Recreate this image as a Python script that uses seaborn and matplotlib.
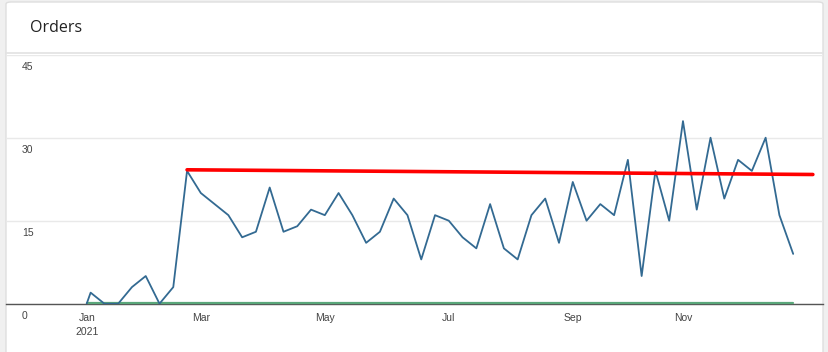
import numpy as np
import pandas as pd
import matplotlib
matplotlib.use("Agg")
import matplotlib.pyplot as plt
import matplotlib.dates as mdates
from matplotlib.patches import FancyBboxPatch
from matplotlib.lines import Line2D
import seaborn as sns

# ---------------------------
# Data
# ---------------------------
first_day = ["2021-01-01"]
weekly_days = pd.date_range("2021-01-03", "2021-12-26", freq="7D").strftime("%Y-%m-%d").tolist()
dates = pd.to_datetime(first_day + weekly_days)

orders = [0, 2, 0, 0, 3, 5, 0, 3, 24, 20,
          18, 16, 12, 13, 21, 13, 14, 17, 16, 20,
          16, 11, 13, 19, 16, 8, 16, 15, 12, 10,
          18, 10, 8, 16, 19, 11, 22, 15, 18, 16,
          26, 5, 24, 15, 33, 17, 30, 19, 26, 24,
          30, 16, 9]

returns = [0, 0, 0, 0, 0, 0, 0, 0, 0, 0,
           0, 0, 0, 0, 0, 0, 0, 0, 0, 0,
           0, 0, 0, 0, 0, 0, 0, 0, 0, 0,
           0, 0, 0, 0, 0, 0, 0, 0, 0, 0,
           0, 0, 0, 0, 0, 0, 0, 0, 0, 0,
           0, 0, 0]

trend_dates = pd.to_datetime(["2021-02-21", "2022-01-05"])
trend_vals = [24.2, 23.35]

y_ticks = [0, 15, 30, 45]
x_tick_dates = pd.to_datetime(["2021-01-01", "2021-02-28", "2021-05-02",
                               "2021-07-04", "2021-09-05", "2021-10-31"])
x_tick_labels = ["Jan\n2021", "Mar", "May", "Jul", "Sep", "Nov"]

df = pd.DataFrame({"date": dates, "orders": orders, "returns": returns})

# ---------------------------
# Figure / card layout
# ---------------------------
sns.set_theme(style="white")
plt.rcParams["font.family"] = ["Liberation Sans", "DejaVu Sans"]

W, H = 829, 352
fig = plt.figure(figsize=(W / 100, H / 100), dpi=100)
fig.patch.set_facecolor("#f0f0f0")

card = FancyBboxPatch((6 / W, -0.05), (823 - 6) / W, (350 - 0) / H + 0.05,
                      boxstyle="round,pad=0,rounding_size=0.006",
                      transform=fig.transFigure, facecolor="white",
                      edgecolor="#dedede", linewidth=1, zorder=0)
fig.patches.append(card)
fig.lines.append(Line2D([6 / W, 823 / W], [1 - 53 / H, 1 - 53 / H],
                        transform=fig.transFigure, color="#e2e2e2", lw=1.2, zorder=1))
fig.text(30 / W, 1 - 28 / H, "Orders", family=["Open Sans", "DejaVu Sans"],
         fontsize=11.5, color="#222222", va="center", ha="left", weight="medium")

left, right = 6 / W, 822.7 / W
bottom, top = (H - 303.7) / H, (H - 54.7) / H
ax = fig.add_axes([left, bottom, right - left, top - bottom])
ax.set_zorder(3)
ax.set_facecolor("none")

sns.lineplot(data=df, x="date", y="returns", ax=ax, color="#5aa77a", lw=1.6, zorder=3)
sns.lineplot(data=df, x="date", y="orders", ax=ax, color="#336a92", lw=1.3, zorder=4)
sns.lineplot(x=trend_dates, y=trend_vals, ax=ax, color="#ff0000", lw=2.6, zorder=5)
ax.lines[0].set_clip_on(False)
ax.lines[0].set_transform(ax.lines[0].get_transform() +
                          matplotlib.transforms.ScaledTranslation(0, 0.8 / 72, fig.dpi_scale_trans))

ax.set_xlim(pd.Timestamp("2020-11-21"), pd.Timestamp("2022-01-10"))
ax.set_ylim(0, 45)
ax.set_xlabel("")
ax.set_ylabel("")

# grid
ax.set_yticks(y_ticks)
ax.set_yticklabels([])
ax.yaxis.grid(True, color="#e9e9e9", lw=1)
ax.tick_params(axis="y", length=0)
for v in y_ticks:
    ax.annotate(str(v), xy=(16 / (right - left) / W, v), xycoords=("axes fraction", "data"),
                xytext=(0, -8.6), textcoords="offset points",
                ha="left", va="center", fontsize=7.5, color="#444444")

ax.set_xticks(x_tick_dates)
ax.set_xticklabels(x_tick_labels, fontsize=7.5, color="#444444", linespacing=1.45)
ax.tick_params(axis="x", length=4, width=1, color="#555555", pad=3, direction="out")

for s in ["top", "right", "left"]:
    ax.spines[s].set_visible(False)
ax.spines["bottom"].set_color("#555555")
ax.spines["bottom"].set_linewidth(1)
ax.spines["bottom"].set_zorder(2)

fig.savefig("out.png", dpi=100, facecolor=fig.get_facecolor())
